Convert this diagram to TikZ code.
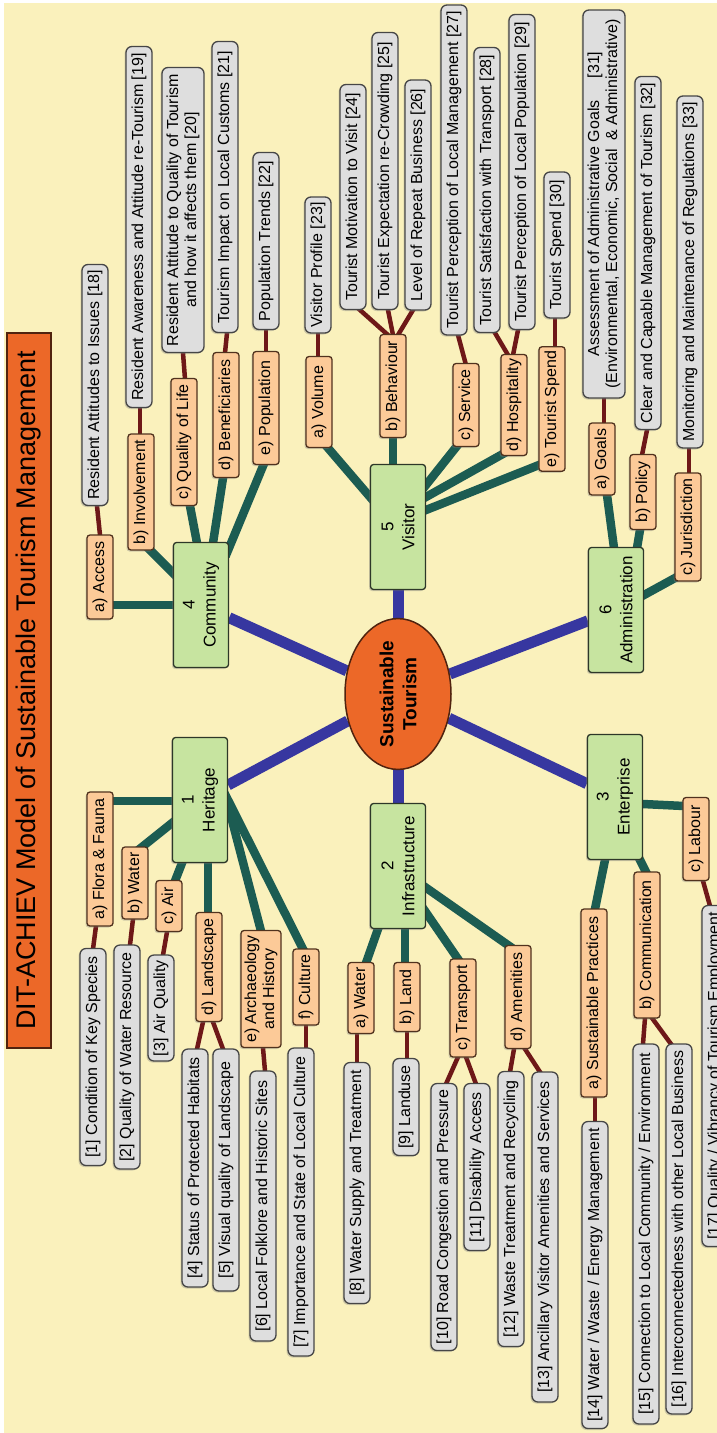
\documentclass[tikz,border=0pt]{standalone}
\usepackage{fontspec}
\setmainfont{Liberation Sans}
\usetikzlibrary{shapes.geometric,shadows,calc,backgrounds}

\definecolor{paper}{RGB}{250,241,188}
\definecolor{leaffill}{RGB}{222,222,222}
\definecolor{leafdraw}{RGB}{70,70,70}
\definecolor{subfill}{RGB}{252,202,152}
\definecolor{subdraw}{RGB}{80,50,30}
\definecolor{catfill}{RGB}{199,228,160}
\definecolor{catdraw}{RGB}{45,55,40}
\definecolor{hubfill}{RGB}{236,104,40}
\definecolor{hubdraw}{RGB}{80,35,15}
\definecolor{hubline}{RGB}{55,55,160}
\definecolor{branchline}{RGB}{28,92,82}
\definecolor{twigline}{RGB}{110,24,24}

% straight connector between two points, pushed a little into both boxes
\newcommand\mmlink[4][9pt]{%
  \path (#3) coordinate (mmA) (#4) coordinate (mmB);
  \draw[#2] ($(mmA)!-#1!(mmB)$) -- ($(mmB)!-#1!(mmA)$);}

\begin{document}
\begin{tikzpicture}[x=1pt,y=-1pt,
  box/.style={rotate=90, line width=1.3pt, align=center, inner xsep=4pt, inner ysep=0pt,
    drop shadow={shadow xshift=-1.5pt, shadow yshift=-1.5pt, opacity=0.35}},
  leaf/.style={box, fill=leaffill, draw=leafdraw, rounded corners=6pt, minimum height=26pt,
    font=\fontsize{16}{18}\selectfont},
  leafw/.style={leaf, minimum height=42pt},
  sub/.style={box, fill=subfill, draw=subdraw, rounded corners=3pt, minimum height=26pt,
    font=\fontsize{16}{18}\selectfont},
  cat/.style={box, fill=catfill, draw=catdraw, rounded corners=3pt, minimum width=125pt,
    minimum height=55pt, font=\fontsize{17}{21}\selectfont},
  hubw/.style={line width=11pt, draw=hubline},
  branch/.style={line width=8.5pt, draw=branchline},
  twig/.style={line width=4.5pt, draw=twigline},
]
\useasboundingbox (0,0) rectangle (717,1433);

% title bar
\node[rotate=90, fill=hubfill, draw=hubdraw, line width=1.3pt, minimum width=715pt,
  minimum height=44pt, inner sep=0pt, font=\fontsize{27}{30}\selectfont]
  (title) at (29,690.5) {DIT-ACHIEV Model of Sustainable Tourism Management};

% hub
\node[ellipse, rotate=90, fill=hubfill, draw=hubdraw, line width=1.5pt, minimum width=147pt,
  minimum height=106pt, inner sep=0pt, align=center, font=\bfseries\fontsize{19}{23}\selectfont]
  (st) at (398,694) {Sustainable\\Tourism};

% 1 Heritage
\node[cat] (her) at (200,800) {1\\Heritage};
\node[sub, minimum width=134pt] (hA) at (100,859) {a) Flora \& Fauna};
\node[sub, minimum width=72pt] (hB) at (135,883) {b) Water};
\node[sub, minimum width=51pt] (hC) at (169,906) {c) Air};
\node[sub, minimum width=109pt] (hD) at (209,967) {d) Landscape};
\node[sub, minimum width=117pt, minimum height=40pt] (hE) at (261,989) {e) Archaeology\\and History};
\node[sub, minimum width=76pt] (hF) at (306,987) {f) Culture};
\node[leaf, minimum width=217pt] (l1) at (93,1057) {[1] Condition of Key Species};
\node[leaf, minimum width=224pt] (l2) at (127,1057) {[2] Quality of Water Resource};
\node[leaf, minimum width=106pt] (l3) at (161,1008) {[3] Air Quality};
\node[leaf, minimum width=238pt] (l4) at (195,1168) {[4] Status of Protected Habitats};
\node[leaf, minimum width=242pt] (l5) at (226,1170) {[5] Visual quality of Landscape};
\node[leaf, minimum width=270pt] (l6) at (263,1206) {[6] Local Folklore and Historic Sites};
\node[leaf, minimum width=308pt] (l7) at (301,1202) {[7] Importance and State of Local Culture};

% 2 Infrastructure
\node[cat] (inf) at (398,866) {2\\Infrastructure};
\node[sub, minimum width=71pt] (iA) at (361,998) {a) Water};
\node[sub, minimum width=69pt] (iB) at (407,997) {b) Land};
\node[sub, minimum width=98pt] (iC) at (463,1008) {c) Transport};
\node[sub, minimum width=103pt] (iD) at (518,997) {d) Amenities};
\node[leaf, minimum width=241pt] (l8) at (357,1183) {[8] Water Supply and Treatment};
\node[leaf, minimum width=97pt] (l9) at (406,1107) {[9] Landuse};
\node[leaf, minimum width=267pt] (l10) at (444,1217) {[10] Road Congestion and Pressure};
\node[leaf, minimum width=167pt] (l11) at (477,1167) {[11] Disability Access};
\node[leaf, minimum width=275pt] (l12) at (511,1209) {[12] Waste Treatment and Recycling};
\node[leaf, minimum width=330pt] (l13) at (545,1237) {[13] Ancillary Visitor Amenities and Services};

% 3 Enterprise
\node[cat] (ent) at (615,797) {3\\Enterprise};
\node[sub, minimum width=188pt] (eA) at (594,1003) {a) Sustainable Practices};
\node[sub, minimum width=146pt] (eB) at (647,945) {b) Communication};
\node[sub, minimum width=83pt] (eC) at (696,839) {c) Labour};
\node[leaf, minimum width=307pt] (l14) at (595,1275) {[14] Water / Waste / Energy Management};
\node[leaf, minimum width=380pt] (l15) at (646,1234) {[15] Connection to Local Community / Environment};
\node[leaf, minimum width=370pt] (l16) at (679,1229) {[16] Interconnectedness with other Local Business};
\node[leaf, minimum width=341pt] (l17) at (715,1076) {[17] Quality / Vibrancy of Tourism Employment};

% 4 Community
\node[cat] (com) at (201,605) {4\\Community};
\node[sub, minimum width=84pt] (cA) at (100,577) {a) Access};
\node[sub, minimum width=116pt] (cB) at (141,492) {b) Involvement};
\node[sub, minimum width=127pt] (cC) at (184,442) {c) Quality of Life};
\node[sub, minimum width=125pt] (cD) at (226,415) {d) Beneficiaries};
\node[sub, minimum width=113pt] (cE) at (266,408) {e) Population};
\node[leaf, minimum width=241pt] (l18) at (95,385) {Resident Attitudes to Issues [18]};
\node[leaf, minimum width=361pt] (l19) at (139,227) {Resident Awareness and Attitude re-Tourism [19]};
\node[leafw, minimum width=285pt] (l20) at (183,210) {Resident Attitude to Quality of Tourism\\and how it affects them [20]};
\node[leaf, minimum width=291pt] (l21) at (225,187) {Tourism Impact on Local Customs [21]};
\node[leaf, minimum width=177pt] (l22) at (266,241) {Population Trends [22]};

% 5 Visitor
\node[cat] (vis) at (398,527) {5\\Visitor};
\node[sub, minimum width=91pt] (vA) at (319,402) {a) Volume};
\node[sub, minimum width=103pt] (vB) at (393,386) {b) Behaviour};
\node[sub, minimum width=83pt] (vC) at (466,405) {c) Service};
\node[sub, minimum width=101pt] (vD) at (514,405) {d) Hospitality};
\node[sub, minimum width=124pt] (vE) at (552,409) {e) Tourist Spend};
\node[leaf, minimum width=136pt] (l23) at (318,265) {Visitor Profile [23]};
\node[leaf, minimum width=225pt] (l24) at (353,197) {Tourist Motivation to Visit [24]};
\node[leaf, minimum width=277pt] (l25) at (385,171) {Tourist Expectation re-Crowding [25]};
\node[leaf, minimum width=230pt] (l26) at (418,195) {Level of Repeat Business [26]};
\node[leaf, minimum width=330pt] (l27) at (454,170) {Tourist Perception of Local Management [27]};
\node[leaf, minimum width=285pt] (l28) at (487,190) {Tourist Satisfaction with Transport [28]};
\node[leaf, minimum width=315pt] (l29) at (522,172) {Tourist Perception of Local Population [29]};
\node[leaf, minimum width=146pt] (l30) at (557,245) {Tourist Spend [30]};

% 6 Administration
\node[cat] (adm) at (616,610) {6\\Administration};
\node[sub, minimum width=72pt] (aA) at (602,459) {a) Goals};
\node[sub, minimum width=75pt] (aB) at (643,492) {b) Policy};
\node[sub, minimum width=108pt] (aC) at (688,527) {c) Jurisdiction};
\node[leafw, minimum width=388pt] (l31) at (604,204) {Assessment of Administrative Goals\hspace{22pt}[31]\\(Environmental, Economic, Social \ \& Administrative)};
\node[leaf, minimum width=353pt] (l32) at (648,253) {Clear and Capable Management of Tourism [32]};
\node[leaf, minimum width=352pt] (l33) at (690,272) {Monitoring and Maintenance of Regulations [33]};

\begin{pgfonlayer}{background}
  \fill[white] (0,0) rectangle (717,1433);
  \fill[paper] (4,3) rectangle (717,1433);
  % hub to themes
  \foreach \t in {her,inf,ent,com,vis,adm} \draw[hubw] (st) -- (\t);
  % themes to topics
  \mmlink{branch}{$(her)+(-27,1)$}{$(hA)+(13,-58)$}
  \mmlink{branch}{$(her)+(-28,23)$}{$(hB)+(7,-36)$}
  \mmlink{branch}{$(her)+(-18,63)$}{$(hC)+(6,-25)$}
  \mmlink{branch}{$(her)+(8,63)$}{$(hD)+(-1,-54)$}
  \mmlink{branch}{$(her)+(28,5)$}{$(hE)+(0,-58)$}
  \mmlink{branch}{$(her)+(28,0)$}{$(hF)+(-3,-38)$}
  \mmlink{branch}{$(inf)+(-20,63)$}{$(iA)+(5,-35)$}
  \mmlink{branch}{$(inf)+(7,63)$}{$(iB)+(-2,-34)$}
  \mmlink{branch}{$(inf)+(27,45)$}{$(iC)+(-5,-49)$}
  \mmlink{branch}{$(inf)+(27,21)$}{$(iD)+(-13,-54)$}
  \mmlink{branch}{$(ent)+(-10,63)$}{$(eA)+(1,-94)$}
  \mmlink{branch}{$(ent)+(25,63)$}{$(eB)+(-1,-73)$}
  \mmlink{branch}{$(ent)+(28,7)$}{$(eC)+(-12,-33)$}
  \mmlink{branch}{$(com)+(-28,0)$}{$(cA)+(13,28)$}
  \mmlink{branch}{$(com)+(-28,-32)$}{$(cB)+(9,58)$}
  \mmlink{branch}{$(com)+(-4,-62)$}{$(cC)+(6,64)$}
  \mmlink{branch}{$(com)+(12,-62)$}{$(cD)+(-3,63)$}
  \mmlink{branch}{$(com)+(28,-57)$}{$(cE)+(-3,58)$}
  \mmlink{branch}{$(vis)+(-28,-30)$}{$(vA)+(9,46)$}
  \mmlink{branch}{$(vis)+(-5,-62)$}{$(vB)+(0,52)$}
  \mmlink{branch}{$(vis)+(28,-42)$}{$(vC)+(-9,41)$}
  \mmlink{branch}{$(vis)+(28,-30)$}{$(vD)+(-13,50)$}
  \mmlink{branch}{$(vis)+(28,-17)$}{$(vE)+(-13,56)$}
  \mmlink{branch}{$(adm)+(-2,-62)$}{$(aA)+(5,36)$}
  \mmlink{branch}{$(adm)+(21,-62)$}{$(aB)+(-3,38)$}
  \mmlink{branch}{$(adm)+(28,-15)$}{$(aC)+(-13,51)$}
  % topics to indicators
  \mmlink[6pt]{twig}{$(hA)+(-4,67)$}{$(l1)+(0,-108)$}
  \mmlink[6pt]{twig}{$(hB)+(-2,36)$}{$(l2)+(3,-112)$}
  \mmlink[6pt]{twig}{$(hC)+(-2,26)$}{$(l3)+(2,-53)$}
  \mmlink[6pt]{twig}{$(hD)+(-6,55)$}{$(l4)+(2,-119)$}
  \mmlink[6pt]{twig}{$(hD)+(4,55)$}{$(l5)+(-3,-121)$}
  \mmlink[6pt]{twig}{$(hE)+(2,59)$}{$(l6)+(2,-135)$}
  \mmlink[6pt]{twig}{$(hF)+(0,38)$}{$(l7)+(5,-154)$}
  \mmlink[6pt]{twig}{$(iA)+(-4,36)$}{$(l8)+(0,-120)$}
  \mmlink[6pt]{twig}{$(iB)+(0,35)$}{$(l9)+(1,-48)$}
  \mmlink[6pt]{twig}{$(iC)+(-5,49)$}{$(l10)+(2,-133)$}
  \mmlink[6pt]{twig}{$(iC)+(3,49)$}{$(l11)+(-1,-83)$}
  \mmlink[6pt]{twig}{$(iD)+(-4,52)$}{$(l12)+(-1,-137)$}
  \mmlink[6pt]{twig}{$(iD)+(7,52)$}{$(l13)+(-5,-165)$}
  \mmlink[6pt]{twig}{$(eA)+(1,94)$}{$(l14)+(0,-153)$}
  \mmlink[6pt]{twig}{$(eB)+(-2,73)$}{$(l15)+(-3,-190)$}
  \mmlink[6pt]{twig}{$(eB)+(5,73)$}{$(l16)+(-8,-185)$}
  \mmlink[6pt]{twig}{$(eC)+(7,42)$}{$(l17)+(-5,-170)$}
  \mmlink[6pt]{twig}{$(cA)+(0,-42)$}{$(l18)+(2,121)$}
  \mmlink[6pt]{twig}{$(cB)+(-1,-58)$}{$(l19)+(1,181)$}
  \mmlink[6pt]{twig}{$(cC)+(1,-63)$}{$(l20)+(0,143)$}
  \mmlink[6pt]{twig}{$(cD)+(-1,-62)$}{$(l21)+(2,146)$}
  \mmlink[6pt]{twig}{$(cE)+(0,-56)$}{$(l22)+(0,89)$}
  \mmlink[6pt]{twig}{$(vA)+(-1,-45)$}{$(l23)+(0,68)$}
  \mmlink[6pt]{twig}{$(vB)+(-5,-51)$}{$(l24)+(7,113)$}
  \mmlink[6pt]{twig}{$(vB)+(0,-51)$}{$(l25)+(3,139)$}
  \mmlink[6pt]{twig}{$(vB)+(5,-51)$}{$(l26)+(-5,115)$}
  \mmlink[6pt]{twig}{$(vC)+(0,-40)$}{$(l27)+(4,165)$}
  \mmlink[6pt]{twig}{$(vD)+(-6,-50)$}{$(l28)+(8,143)$}
  \mmlink[6pt]{twig}{$(vD)+(-1,-50)$}{$(l29)+(-4,158)$}
  \mmlink[6pt]{twig}{$(vE)+(3,-62)$}{$(l30)+(-2,73)$}
  \mmlink[6pt]{twig}{$(aA)+(2,-36)$}{$(l31)+(0,194)$}
  \mmlink[6pt]{twig}{$(aB)+(-1,-37)$}{$(l32)+(-1,177)$}
  \mmlink[6pt]{twig}{$(aC)+(1,-54)$}{$(l33)+(-1,176)$}
\end{pgfonlayer}
\end{tikzpicture}
\end{document}
